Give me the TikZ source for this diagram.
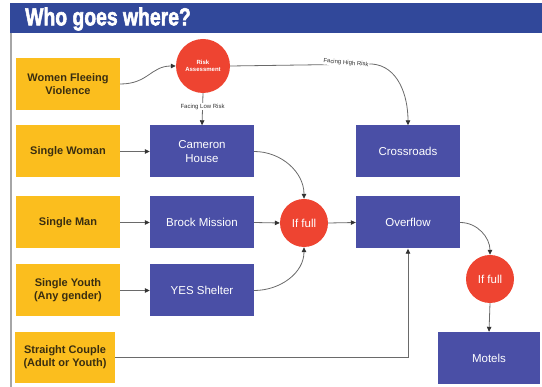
\documentclass[tikz,border=0pt]{standalone}
\usepackage{fontspec}
\setmainfont{Liberation Sans}
\newfontfamily\titlefont{Liberation Sans}[BoldFeatures={FakeBold=2.5}]
\usetikzlibrary{arrows.meta}
\definecolor{ybox}{HTML}{FBBE1E}
\definecolor{bbox}{HTML}{4A4FA6}
\definecolor{hblue}{HTML}{31489A}
\definecolor{rcirc}{HTML}{EE4431}
\definecolor{ytext}{HTML}{3A2E10}
\definecolor{lgray}{HTML}{6A6A6A}
\tikzset{
  ystyle/.style={fill=ybox, draw=none, minimum width=104pt, minimum height=52pt, align=center, text=ytext, font=\fontsize{11}{13}\selectfont\bfseries, inner sep=1pt},
  bstyle/.style={fill=bbox, draw=none, minimum width=104pt, minimum height=52pt, align=center, text=white, font=\fontsize{11.5}{14}\selectfont, inner sep=1pt},
  rstyle/.style={circle, fill=rcirc, draw=none, minimum size=48pt, inner sep=0pt, text=white, align=center, font=\fontsize{11.5}{14}\selectfont},
  conn/.style={draw=lgray, line width=0.8pt, -{Triangle[length=5pt,width=4.5pt,fill=black!80,color=black!80]}},
  lab/.style={font=\fontsize{6}{7}\selectfont, text=black!80, fill=white, inner sep=0.6pt}
}
\begin{document}
\begin{tikzpicture}[x=1pt,y=1pt]
\useasboundingbox (0,0) rectangle (542,-387);
% header
\fill[hblue] (10,-3) rectangle (542,-33);
\node[anchor=west, text=white, inner sep=0pt] (title) at (25,-19)
  {\scalebox{0.88}[1.12]{\titlefont\fontsize{22}{24}\selectfont\bfseries Who goes where?}};
\draw[gray!70, line width=1.2pt] (11,-33) -- (11,-387);
% yellow boxes
\node[ystyle] (wfv) at (68,-84) {Women Fleeing\\Violence};
\node[ystyle] (sw) at (68,-151.5) {Single Woman};
\node[ystyle] (sm) at (68,-222.5) {Single Man};
\node[ystyle] (sy) at (68,-290.5) {Single Youth\\(Any gender)};
\node[ystyle, minimum width=100pt, minimum height=51pt] (sc) at (65,-357.5) {Straight Couple\\(Adult or Youth)};
% blue boxes
\node[bstyle] (cam) at (202,-151.5) {Cameron\\House};
\node[bstyle] (brock) at (202,-222.5) {Brock Mission};
\node[bstyle] (yes) at (202,-290.5) {YES Shelter};
\node[bstyle] (cross) at (408,-151.5) {Crossroads};
\node[bstyle] (over) at (408,-222.5) {Overflow};
\node[bstyle, minimum width=102pt] (motels) at (489,-358) {Motels};
% circles
\node[rstyle, minimum size=54pt, font=\fontsize{6}{7.5}\selectfont\bfseries] (risk) at (203,-66) {Risk\\Assessment};
\node[rstyle] (if1) at (304,-223) {If full};
\node[rstyle] (if2) at (490,-279) {If full};
% connectors
\draw[conn] (wfv.east) .. controls +(28,0) and +(-25,0) .. (risk.west);
\draw[conn] (risk.south) -- node[lab, pos=0.42] {Facing Low Risk} (cam.north);
\coordinate (hr) at (372,-64);
\draw[conn] (risk.east) -- (hr) .. controls +(26,-2) and +(0,30) .. (cross.north);
\node[lab, rotate=-5] (hrl) at (346,-63) {Facing High Risk};
\draw[conn] (sw.east) -- (cam.west);
\draw[conn] (sm.east) -- (brock.west);
\draw[conn] (sy.east) -- (yes.west);
\draw[conn] (cam.east) to[out=0,in=90] (if1.north);
\draw[conn] (brock.east) -- (if1.west);
\draw[conn] (yes.east) to[out=0,in=-90] (if1.south);
\draw[conn] (if1.east) -- (over.west);
\draw[conn] (over.east) to[out=0,in=90] (if2.north);
\draw[conn] (if2.south) -- (motels.north);
\draw[conn] (sc.east) -| (over.south);
\end{tikzpicture}
\end{document}
